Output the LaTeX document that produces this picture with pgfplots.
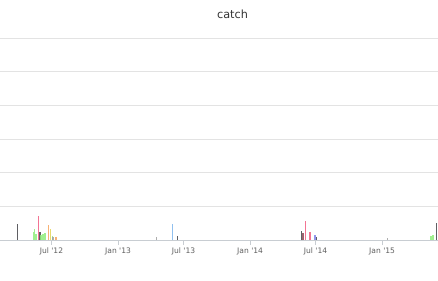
\documentclass[border=0pt]{standalone}
\usepackage{pgfplots}
\pgfplotsset{compat=1.18}
\usepackage{fontspec}
\setmainfont{DejaVu Sans}

\definecolor{gridc}{HTML}{E3E3E3}
\definecolor{axisc}{HTML}{C8CDD2}
\definecolor{labelc}{HTML}{606060}
\definecolor{titlec}{HTML}{333333}
\definecolor{sDark}{HTML}{434348}
\definecolor{sGreen}{HTML}{90ED7D}
\definecolor{sPink}{HTML}{F15C80}
\definecolor{sOrange}{HTML}{F7A35C}
\definecolor{sYellow}{HTML}{E4D354}
\definecolor{sBlue}{HTML}{7CB5EC}
\definecolor{sPurple}{HTML}{8085E9}
\definecolor{sBrown}{HTML}{8D4653}
\definecolor{sGrey}{HTML}{A0A0A0}

\begin{document}
\begin{tikzpicture}[x=1bp,y=1bp]
\useasboundingbox (0,-40) rectangle (438,240);
% x values are days counted from 1 Jan 2012
\begin{axis}[
  at={(0,0)}, anchor=south west,
  width=438bp, height=202bp, scale only axis,
  xmin=39.6, xmax=1250.6, ymin=0, ymax=60,
  ytick={0,10,...,60}, yticklabels={},
  ymajorgrids, major grid style={gridc, line width=0.8pt},
  axis x line*=bottom, axis y line*=left,
  y axis line style={draw=none}, ytick style={draw=none},
  x axis line style={axisc, line width=0.8pt},
  xtick={182,366,547,731,912,1096},
  xticklabels={Jul \textquotesingle12, Jan \textquotesingle13, Jul \textquotesingle13, Jan \textquotesingle14, Jul \textquotesingle14, Jan \textquotesingle15},
  xtick style={axisc, line width=0.8pt},
  tick align=outside, major tick length=5bp,
  ticklabel style={font=\fontsize{7.6}{9}\selectfont, text=labelc},
  every x tick label/.style={yshift=1bp},
  every axis plot/.append style={ycomb, line width=1.1bp, draw opacity=0.85},
]
\addplot[sDark] coordinates {(87.4,4.75) (150.2,2.38) (530.9,1.19) (873.7,2.76) (914.6,0.89) (1246.9,5.14)};
\addplot[sGreen] coordinates {(132.2,2.38) (135.0,3.27) (139.1,1.78) (153.0,1.49) (158.5,1.78) (164.0,2.08) (184.7,1.19) (1231.2,1.19) (1236.7,1.49)};
\addplot[sOrange] coordinates {(173.7,4.46) (194.4,0.89)};
\addplot[sYellow] coordinates {(180.0,3.27)};
\addplot[sBlue] coordinates {(516.0,4.75)};
\addplot[sPurple] coordinates {(910.5,1.49)};
\addplot[sBrown] coordinates {(877.3,1.99)};
\addplot[sGrey] coordinates {(186.1,0.89) (472.8,0.98) (1111.5,0.68)};
\addplot[sPink] coordinates {(145.5,7.13) (884.8,5.73) (896.7,2.47)};
\end{axis}
\node[font=\fontsize{11.3}{13}\selectfont, text=titlec] at (232.5,226) {catch};
\end{tikzpicture}
\end{document}
